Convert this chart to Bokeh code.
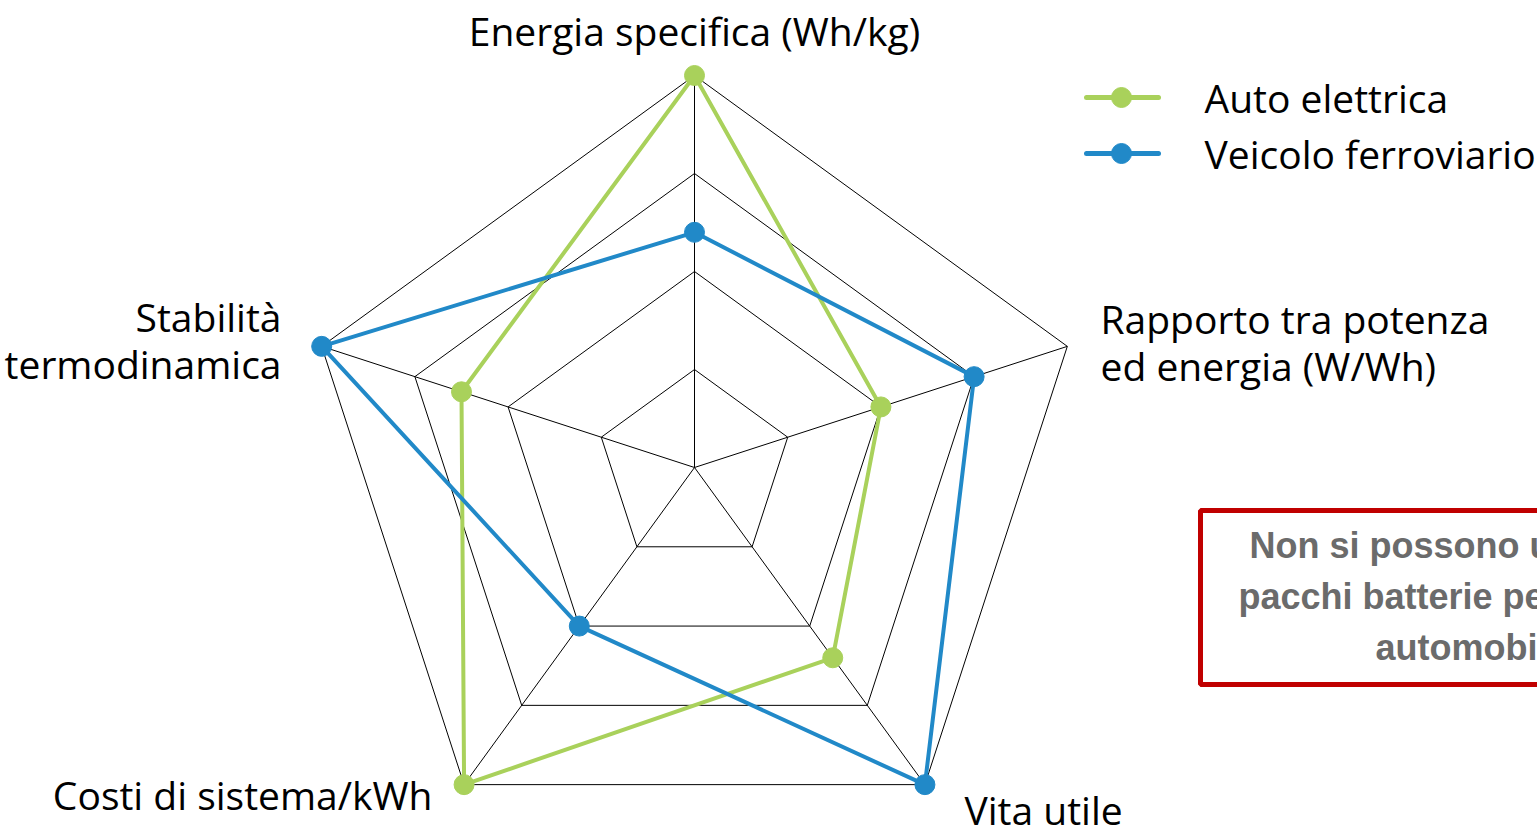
import numpy as np
from bokeh.plotting import figure
from bokeh.models import Range1d, Label
from bokeh.embed import file_html
from bokeh.resources import INLINE

# ---- data ----
categories = ["Energia specifica (Wh/kg)", "Rapporto tra potenza\ned energia (W/Wh)",
              "Vita utile", "Costi di sistema/kWh", "Stabilità\ntermodinamica"]
series_names = ["Auto elettrica", "Veicolo ferroviario"]
auto_elettrica = [4, 2, 2.4, 4, 2.5]
veicolo_ferroviario = [2.4, 3, 4, 2, 4]
ring_levels = [1, 2, 3, 4]
note_lines = ["Non si possono utilizzare", "pacchi batterie pensati per", "automobili"]

GREEN = "#A9D15B"
BLUE = "#2189C8"
FONT = "Open Sans"

W, H = 1537, 828
CX, CY, S = 694, 467, 98.0  # center in px, px per unit


def px(x, y):
    """convert page pixel position to data coords (layout helper)"""
    return (x - CX) / S, (CY - y) / S


p = figure(width=W, height=H, output_backend="svg", toolbar_location=None,
           x_range=Range1d((0 - CX) / S, (W - CX) / S),
           y_range=Range1d((CY - H) / S, CY / S),
           min_border=0, min_border_left=0, min_border_right=0,
           min_border_top=0, min_border_bottom=0)
p.axis.visible = False
p.grid.visible = False
p.outline_line_color = None
p.background_fill_color = "white"

n = len(categories)
angles = np.deg2rad(90 - 72 * np.arange(n))
ca, sa = np.cos(angles), np.sin(angles)

# grid rings
for r in ring_levels:
    xs = list(r * ca) + [r * ca[0]]
    ys = list(r * sa) + [r * sa[0]]
    p.line(xs, ys, line_color="black", line_width=1)
# spokes
rmax = max(ring_levels)
p.multi_line([[0, rmax * c] for c in ca], [[0, rmax * s] for s in sa],
             line_color="black", line_width=1)

# series
for vals, col in [(auto_elettrica, GREEN), (veicolo_ferroviario, BLUE)]:
    v = np.array(vals, dtype=float)
    xs = v * ca
    ys = v * sa
    p.line(list(xs) + [xs[0]], list(ys) + [ys[0]], line_color=col, line_width=4)
    p.scatter(xs, ys, size=20, fill_color=col, line_color=col)

# category labels
lab_style = dict(text_font=FONT, text_font_size="39px", text_color="black",
                 text_baseline="middle")
def add_label(xp, yp, txt, align):
    x, y = px(xp, yp)
    p.add_layout(Label(x=x, y=y, text=txt, text_align=align, **lab_style))

add_label(694, 30, categories[0], "center")
l1 = categories[1].split("\n")
add_label(1100, 318, l1[0], "left")
add_label(1100, 365, l1[1], "left")
add_label(964, 809, categories[2], "left")
add_label(432, 794, categories[3], "right")
l4 = categories[4].split("\n")
add_label(281, 316, l4[0], "right")
add_label(281, 363, l4[1], "right")

# legend (manual)
for i, (name, col) in enumerate(zip(series_names, [GREEN, BLUE])):
    yy = 97 + 56 * i
    x0, y0 = px(1086, yy)
    x1, _ = px(1158, yy)
    xm, _ = px(1121, yy)
    p.line([x0, x1], [y0, y0], line_color=col, line_width=5, line_cap="round")
    p.scatter([xm], [y0], size=20, fill_color=col, line_color=col)
    add_label(1204, yy, name, "left")

# note box
bx0, by0 = px(1200, 510)
bx1, by1 = px(1740, 684)
p.quad(left=bx0, right=bx1, top=by0, bottom=by1, fill_color="white",
       line_color="#C00000", line_width=5)
for i, t in enumerate(note_lines):
    x, y = px(1466, 545 + 51 * i)
    p.add_layout(Label(x=x, y=y, text=t, text_align="center", text_baseline="middle",
                       text_font="Liberation Sans", text_font_style="bold",
                       text_font_size="36px", text_color="#6B6B6B"))

open("out.html", "w").write(file_html(p, INLINE))
